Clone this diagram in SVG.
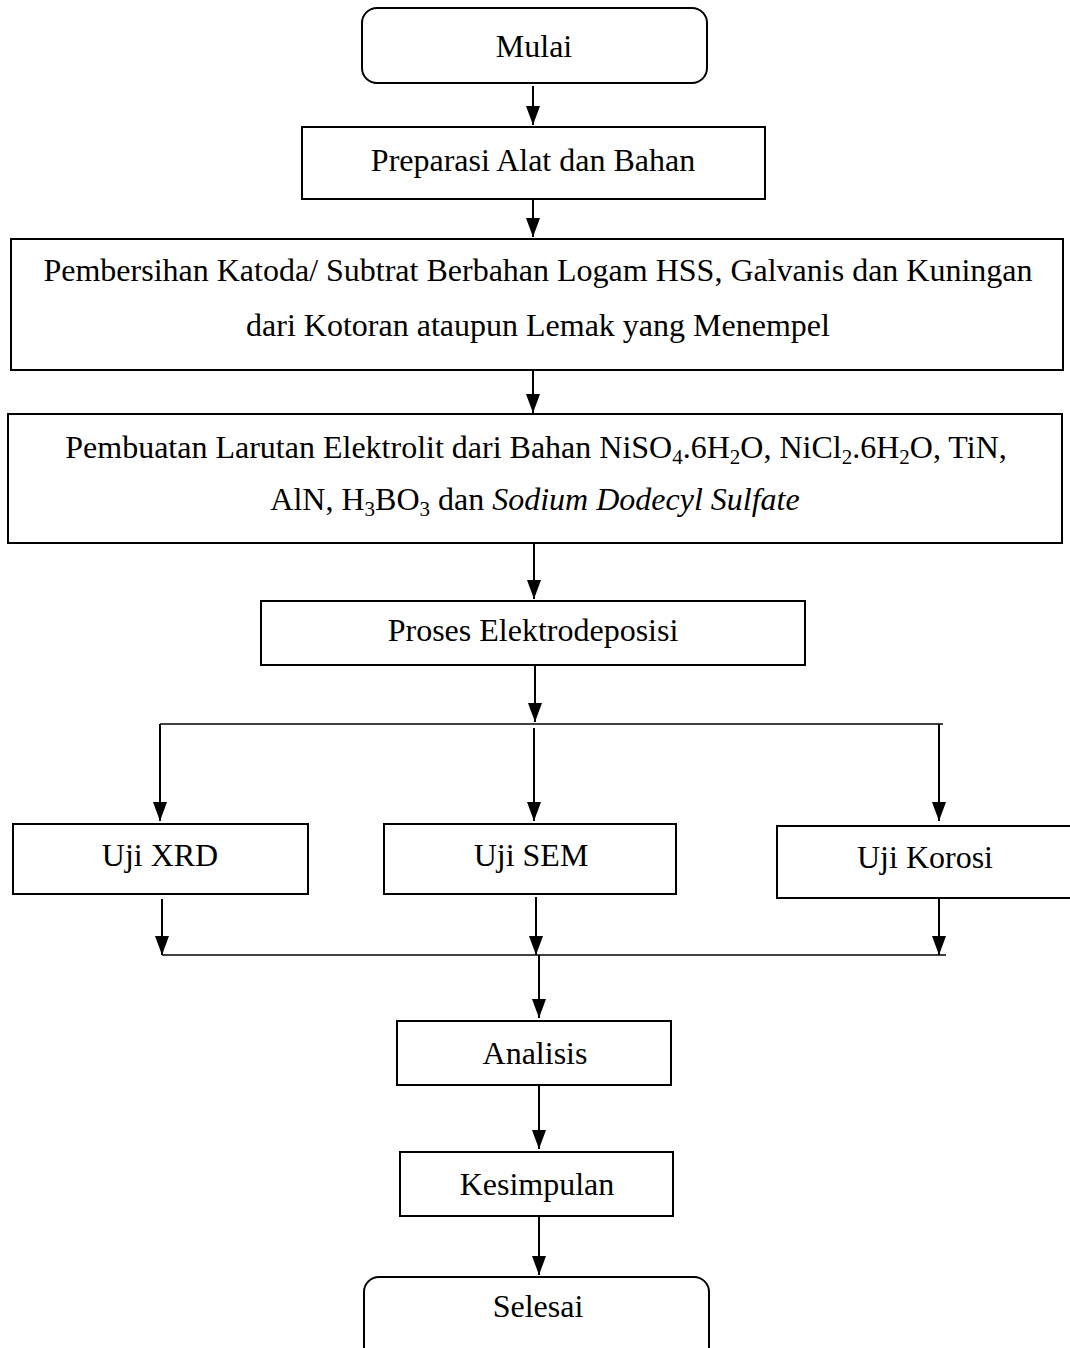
<svg xmlns="http://www.w3.org/2000/svg" width="1070" height="1348" viewBox="0 0 1070 1348">
<style>
.box{fill:#fff;stroke:#000;stroke-width:2}
.t{font-family:"Liberation Serif","Times New Roman",serif;font-size:32px;fill:#000;text-anchor:middle}
.c{stroke:#000;stroke-width:2;fill:none}
.h{stroke:#000;stroke-width:1.5;fill:none}
.sub{font-size:21px}
</style>
<defs>
<marker id="ah" markerWidth="19" markerHeight="14" refX="19" refY="7" orient="auto" markerUnits="userSpaceOnUse" viewBox="0 0 19 14">
<path d="M0,0 L19,7 L0,14 Z" fill="#000"/>
</marker>
</defs>
<rect width="1070" height="1348" fill="#fff"/>
<g id="connectors">
<line class="c" x1="533" y1="86" x2="533" y2="125" marker-end="url(#ah)"/>
<line class="c" x1="533" y1="200" x2="533" y2="237" marker-end="url(#ah)"/>
<line class="c" x1="533" y1="371" x2="533" y2="413" marker-end="url(#ah)"/>
<line class="c" x1="534" y1="544" x2="534" y2="599" marker-end="url(#ah)"/>
<line class="c" x1="535" y1="666" x2="535" y2="722" marker-end="url(#ah)"/>
<line class="h" x1="160" y1="724" x2="943" y2="724"/>
<line class="c" x1="160" y1="724" x2="160" y2="821" marker-end="url(#ah)"/>
<line class="c" x1="534" y1="728" x2="534" y2="821" marker-end="url(#ah)"/>
<line class="c" x1="939" y1="724" x2="939" y2="821" marker-end="url(#ah)"/>
<line class="c" x1="162" y1="899" x2="162" y2="955" marker-end="url(#ah)"/>
<line class="c" x1="536" y1="897" x2="536" y2="955" marker-end="url(#ah)"/>
<line class="c" x1="939" y1="899" x2="939" y2="955" marker-end="url(#ah)"/>
<line class="h" x1="162" y1="955" x2="946" y2="955"/>
<line class="c" x1="539" y1="955" x2="539" y2="1018" marker-end="url(#ah)"/>
<line class="c" x1="539" y1="1086" x2="539" y2="1149" marker-end="url(#ah)"/>
<line class="c" x1="539" y1="1217" x2="539" y2="1275" marker-end="url(#ah)"/>
</g>
<g id="mulai">
<rect class="box" x="362" y="8" width="345" height="75" rx="15" stroke-width="1.3"/>
<text class="t" x="534" y="57">Mulai</text>
</g>
<g id="preparasi">
<rect class="box" x="302" y="127" width="463" height="72"/>
<text class="t" x="533" y="171">Preparasi Alat dan Bahan</text>
</g>
<g id="pembersihan">
<rect class="box" x="11" y="239" width="1052" height="131"/>
<text class="t" x="538" y="281">Pembersihan Katoda/ Subtrat Berbahan Logam HSS, Galvanis dan Kuningan</text>
<text class="t" x="538" y="336">dari Kotoran ataupun Lemak yang Menempel</text>
</g>
<g id="pembuatan">
<rect class="box" x="8" y="414" width="1054" height="129"/>
<text class="t" x="536" y="458">Pembuatan Larutan Elektrolit dari Bahan NiSO<tspan class="sub" dy="6">4</tspan><tspan dy="-6">.6H</tspan><tspan class="sub" dy="6">2</tspan><tspan dy="-6">O, NiCl</tspan><tspan class="sub" dy="6">2</tspan><tspan dy="-6">.6H</tspan><tspan class="sub" dy="6">2</tspan><tspan dy="-6">O, TiN,</tspan></text>
<text class="t" x="535" y="510">AlN, H<tspan class="sub" dy="6">3</tspan><tspan dy="-6">BO</tspan><tspan class="sub" dy="6">3</tspan><tspan dy="-6"> dan </tspan><tspan font-style="italic">Sodium Dodecyl Sulfate</tspan></text>
</g>
<g id="proses">
<rect class="box" x="261" y="601" width="544" height="64"/>
<text class="t" x="533" y="641">Proses Elektrodeposisi</text>
</g>
<g id="xrd">
<rect class="box" x="13" y="824" width="295" height="70"/>
<text class="t" x="160" y="866">Uji XRD</text>
</g>
<g id="sem">
<rect class="box" x="384" y="824" width="292" height="70"/>
<text class="t" x="531" y="866">Uji SEM</text>
</g>
<g id="korosi">
<rect class="box" x="777" y="826" width="300" height="72"/>
<text class="t" x="925" y="868">Uji Korosi</text>
</g>
<g id="analisis">
<rect class="box" x="397" y="1021" width="274" height="64"/>
<text class="t" x="535" y="1064">Analisis</text>
</g>
<g id="kesimpulan">
<rect class="box" x="400" y="1152" width="273" height="64"/>
<text class="t" x="537" y="1195">Kesimpulan</text>
</g>
<g id="selesai">
<rect class="box" x="364" y="1277" width="345" height="90" rx="15" stroke-width="1.3"/>
<text class="t" x="538" y="1317">Selesai</text>
</g>
</svg>
